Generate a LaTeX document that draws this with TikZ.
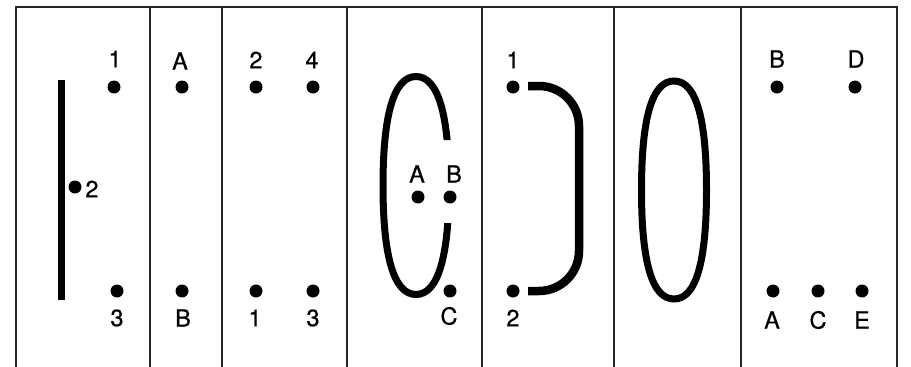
\documentclass[tikz,border=0pt]{standalone}
\usepackage{fontspec}
\setmainfont{TeX Gyre Heros}
\newfontfamily\lblfont[FakeBold=0.6]{TeX Gyre Heros}
\begin{document}
\begin{tikzpicture}[x=1pt,y=-1pt,
  frame/.style={line width=1.6pt, black!85},
  pin/.style={circle, fill=black, inner sep=0pt, minimum size=13pt},
  lbl/.style={inner sep=0pt, font=\lblfont\fontsize{23.5}{28}\selectfont},
  thick wire/.style={line width=7pt, line cap=butt}]
\useasboundingbox (0,0) rectangle (911,367);
% frame
\coordinate (tl) at (16,7);
\coordinate (tr) at (897,7);
\draw[frame] (16,367) -- (tl) -- (tr) -- (897,367);
\foreach \x/\n in {150/a,222/b,347/c,482/d,614/e,741/f}{
  \coordinate (t\n) at (\x,7);
  \coordinate (b\n) at (\x,367);
  \draw[frame] (t\n) -- (b\n);
}
% panel 1
\coordinate (bar1) at (61.5,80);
\coordinate (bar2) at (61.5,300);
\draw[line width=6.5pt] (bar1) -- (bar2);
\node[pin] (p1a) at (114,87) {};
\node[lbl] (l1a) at (115,59) {1};
\node[pin] (p1b) at (75,187) {};
\node[lbl] (l1b) at (92,189) {2};
\node[pin] (p1c) at (117,291) {};
\node[lbl] (l1c) at (117,318) {3};
% panel 2
\node[pin] (p2a) at (182,87) {};
\node[lbl] (l2a) at (180,61) {A};
\node[pin] (p2b) at (182,291) {};
\node[lbl] (l2b) at (183,318) {B};
% panel 3
\node[pin] (p3a) at (256,87) {};
\node[lbl] (l3a) at (256,60) {2};
\node[pin] (p3b) at (313,87) {};
\node[lbl] (l3b) at (312,60) {4};
\node[pin] (p3c) at (256,291) {};
\node[lbl] (l3c) at (255,318) {1};
\node[pin] (p3d) at (313,291) {};
\node[lbl] (l3d) at (313,318) {3};
% panel 4 (open oval, gap on the right)
\node[pin] (p4a) at (418,197) {};
\node[lbl] (l4a) at (417,174) {A};
\node[pin] (p4b) at (450,197) {};
\node[lbl] (l4b) at (454,174) {B};
\node[pin] (p4c) at (450,291) {};
\node[lbl] (l4c) at (449,316) {C};
\coordinate (c4T) at (416,76.5);
\coordinate (c4R) at (449,185.5);
\coordinate (c4B) at (416,294.5);
\coordinate (c4L) at (383,185.5);
\begin{scope}
  \clip (0,0) rectangle (911,367) (470,140) rectangle (425,223);
  \draw[line width=7pt] (c4T)
    .. controls (438,76.5) and (449,114) .. (c4R)
    .. controls (449,257) and (438,294.5) .. (c4B)
    .. controls (394,294.5) and (383,257) .. (c4L)
    .. controls (383,114) and (394,76.5) .. (c4T) -- cycle;
\end{scope}
% panel 5
\node[pin] (p5a) at (513,87) {};
\node[lbl] (l5a) at (513,60) {1};
\node[pin] (p5b) at (513,291) {};
\node[lbl] (l5b) at (513,318) {2};
\coordinate (br1) at (528,86);
\coordinate (br2) at (528,291);
\draw[line width=8.5pt, line cap=butt, rounded corners=40pt] (br1) -- (579,86) -- (579,291) -- (br2);
% panel 6 (slightly squarish oval)
\coordinate (ovT) at (674,81);
\coordinate (ovR) at (706.5,190);
\coordinate (ovB) at (674,299);
\coordinate (ovL) at (641.5,190);
\draw[line width=7pt] (ovT)
  .. controls (696,81) and (706.5,118) .. (ovR)
  .. controls (706.5,262) and (696,299) .. (ovB)
  .. controls (652,299) and (641.5,262) .. (ovL)
  .. controls (641.5,118) and (652,81) .. (ovT) -- cycle;
% panel 7
\node[pin] (p7b) at (777,87) {};
\node[lbl] (l7b) at (777,59) {B};
\node[pin] (p7d) at (855,87) {};
\node[lbl] (l7d) at (856,59) {D};
\node[pin] (p7a) at (773,291) {};
\node[lbl] (l7a) at (772,320) {A};
\node[pin] (p7c) at (818,291) {};
\node[lbl] (l7c) at (818,320) {C};
\node[pin] (p7e) at (862,291) {};
\node[lbl] (l7e) at (862,320) {E};
\end{tikzpicture}
\end{document}
